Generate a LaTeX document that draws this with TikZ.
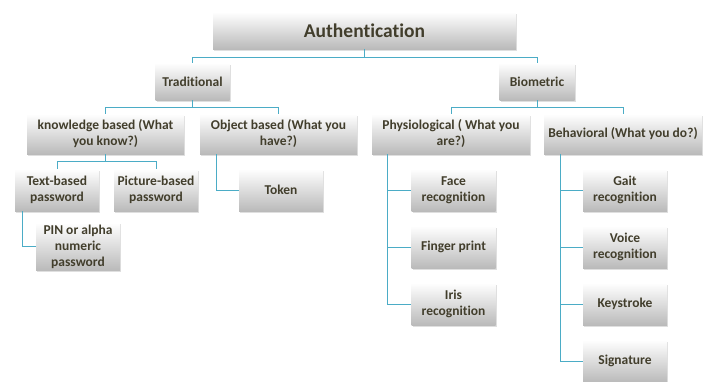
\documentclass[tikz,border=0pt]{standalone}
\usepackage{fontspec}
\setmainfont[Ligatures=NoCommon]{Carlito}
\usepackage{tikz}
\usetikzlibrary{shadows}
\usepackage{xcolor}
\definecolor{linkblue}{RGB}{75,172,198}
\definecolor{boxtext}{RGB}{66,62,44}
\tikzset{
	box/.style={rectangle, top color=white, bottom color=black!27, draw=none,
		drop shadow={opacity=0.25, shadow xshift=1pt, shadow yshift=-1.5pt},
		align=center, inner sep=2pt, text=boxtext,
		font=\bfseries\fontsize{13.5}{16}\selectfont},
	link/.style={draw=linkblue, line width=0.9pt}
}
\begin{document}
\begin{tikzpicture}[x=1pt,y=-1pt]
			\useasboundingbox (0,0) rectangle (713,381);
			\node[box, minimum width=303pt, minimum height=37pt, font=\bfseries\fontsize{19.5}{22}\selectfont] (auth) at (364.5,30.5) {Authentication};
			\node[box, minimum width=74pt, minimum height=37pt] (trad) at (192.5,81.5) {Traditional};
			\node[box, minimum width=75pt, minimum height=37pt] (bio) at (537,81.5) {Biometric};
			\node[box, minimum width=157pt, minimum height=40pt] (know) at (105.5,134) {knowledge based (What\\you know?)};
			\node[box, minimum width=157pt, minimum height=40pt] (obj) at (278.5,134) {Object based (What you\\have?)};
			\node[box, minimum width=158pt, minimum height=40pt] (phys) at (451,134) {Physiological ( What you\\are?)};
			\node[box, minimum width=158pt, minimum height=40pt] (beh) at (623,134) {Behavioral (What you do?)};
			\node[box, minimum width=84pt, minimum height=42pt] (textb) at (57,190) {Text-based\\password};
			\node[box, minimum width=84pt, minimum height=42pt] (pic) at (156,190) {Picture-based\\password};
			\node[box, minimum width=84pt, minimum height=42pt] (token) at (281,190) {Token};
			\node[box, minimum width=84pt, minimum height=43pt] (pin) at (78,246.5) {PIN or alpha\\numeric\\password};
			\node[box, minimum width=84pt, minimum height=42pt] (face) at (453.5,190) {Face\\recognition};
			\node[box, minimum width=84pt, minimum height=42pt] (finger) at (453.5,247) {Finger print};
			\node[box, minimum width=84pt, minimum height=42pt] (iris) at (453.5,304) {Iris\\recognition};
			\node[box, minimum width=84pt, minimum height=42pt] (gait) at (625,190) {Gait\\recognition};
			\node[box, minimum width=84pt, minimum height=42pt] (voice) at (625,247) {Voice\\recognition};
			\node[box, minimum width=84pt, minimum height=42pt] (key) at (625,304) {Keystroke};
			\node[box, minimum width=84pt, minimum height=42pt] (sign) at (625,361) {Signature};
			% tree connectors
			\draw[link] (auth.south) -- ++(0,8) -| (trad.north);
			\draw[link] (auth.south) -- ++(0,8) -| (bio.north);
			\draw[link] (trad.south) -- ++(0,7) -| (know.north);
			\draw[link] (trad.south) -- ++(0,7) -| (obj.north);
			\draw[link] (bio.south) -- ++(0,7) -| (phys.north);
			\draw[link] (bio.south) -- ++(0,7) -| (beh.north);
			\draw[link] (know.south) -- ++(0,7) -| (textb.north);
			\draw[link] (know.south) -- ++(0,7) -| (pic.north);
			\draw[link] ([xshift=17pt]obj.south west) |- (token.west);
			\draw[link] ([xshift=8pt]textb.south west) |- (pin.west);
			\foreach \n in {face,finger,iris}
				\draw[link] ([xshift=16pt]phys.south west) |- (\n.west);
			\foreach \n in {gait,voice,key,sign}
				\draw[link] ([xshift=17pt]beh.south west) |- (\n.west);
\end{tikzpicture}
\end{document}
